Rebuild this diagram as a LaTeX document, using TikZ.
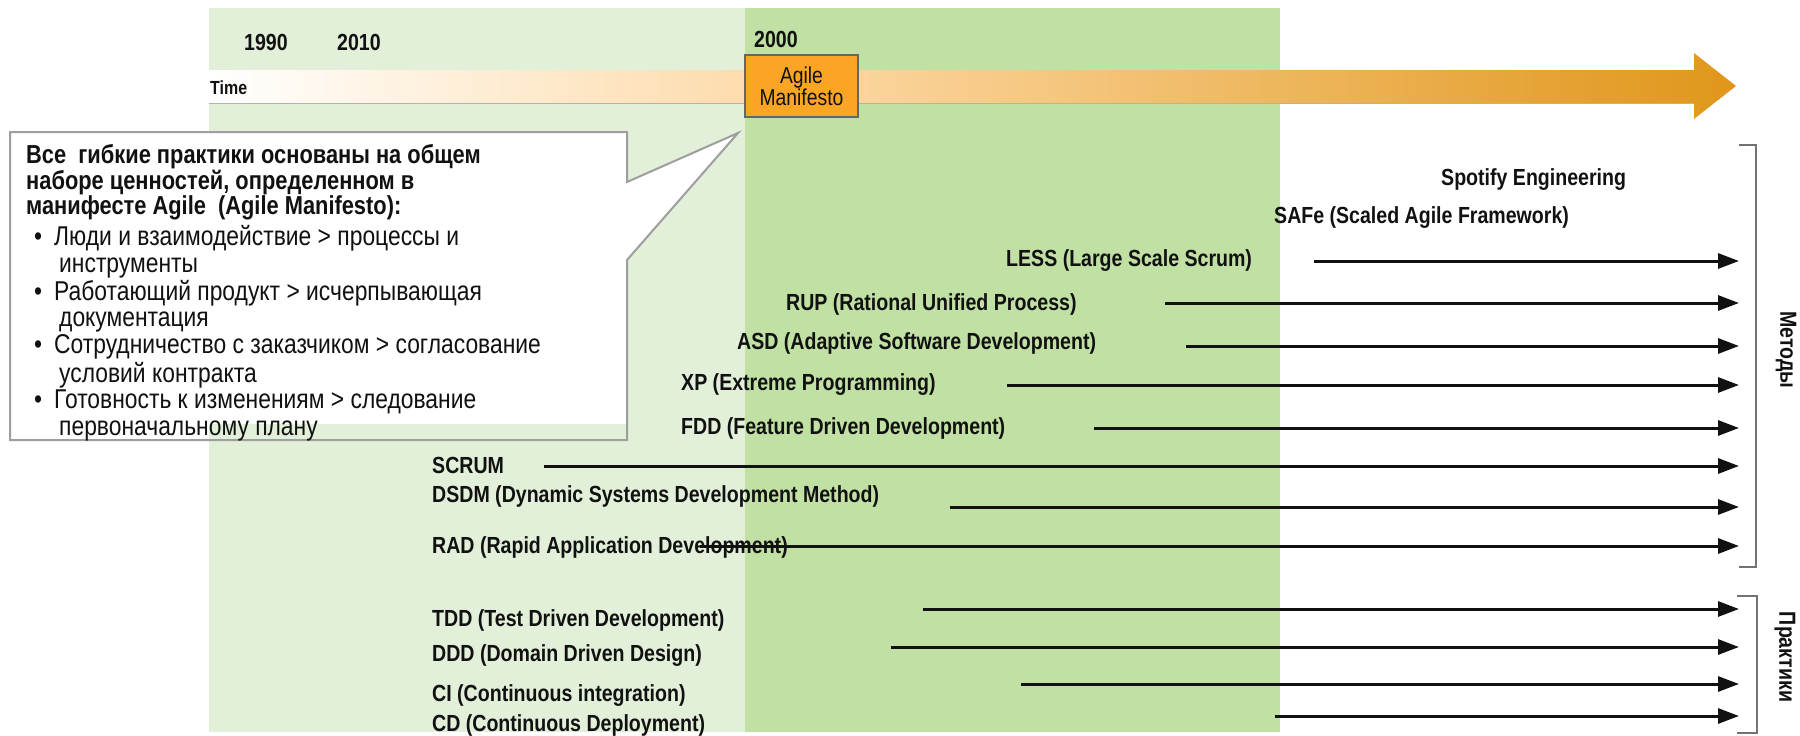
\documentclass[tikz,border=0pt]{standalone}
\usepackage{fontspec}
\setmainfont{Liberation Sans}[FakeStretch=0.84]
\usetikzlibrary{arrows.meta}
\definecolor{lightgr}{HTML}{E2EFD9}
\definecolor{darkgr}{HTML}{C0E0A4}
\definecolor{manifor}{HTML}{FBA524}
\definecolor{tlpeach}{HTML}{FDD9A6}
\definecolor{tlorange}{HTML}{E0961A}
\definecolor{ink}{HTML}{111111}
\pgfdeclarehorizontalshading{timeshade}{100bp}{color(0bp)=(white); color(25bp)=(white); color(44bp)=(tlpeach); color(75bp)=(tlorange); color(100bp)=(tlorange)}

\begin{document}
\begin{tikzpicture}[x=1pt,y=-1pt,
  lbl/.style={anchor=base west,inner sep=0pt,text=ink,font=\fontsize{23.3}{27}\selectfont\bfseries},
  arr/.style={draw=ink,line width=3pt,-{Triangle[length=21pt,width=15pt]}},
  brk/.style={draw=black!55,line width=1.5pt},
  side/.style={rotate=-90,inner sep=0pt,text=ink,font=\fontsize{23.3}{27}\selectfont\bfseries}]
  \useasboundingbox (0,0) rectangle (1800,736);
  \fill[lightgr] (209,8) rectangle (745,732);
  \fill[darkgr] (745,8) rectangle (1280,732);

  \shade[shading=timeshade] (209,70) -- (1694,70) -- (1694,53) -- (1736,86) -- (1694,119) -- (1694,103) -- (209,103) -- cycle;
  \draw[black!30,line width=1pt] (209,103) -- (1694,103);
  \node[lbl,font=\fontsize{19}{21}\selectfont\bfseries] (time) at (210,94) {Time};
  \node[lbl] (y1990) at (244,50) {1990};
  \node[lbl] (y2010) at (337,50) {2010};
  \node[lbl] (y2000) at (754,47) {2000};
  \node[draw=black!60,line width=2pt,fill=manifor,minimum width=113pt,minimum height=62pt,inner sep=0pt,
    align=center,text=ink,font=\fontsize{23}{22}\selectfont] (manif) at (801.5,86) {Agile\\Manifesto};

  \fill[white] (10,132) -- (627,132) -- (627,182) -- (738,133) -- (627,260) -- (627,424) -- (10,424) -- cycle;
  \draw[draw=black!38,line width=2pt] (10,132) -- (627,132) -- (627,182) -- (738,133) -- (627,260) -- (627,440) -- (10,440) -- cycle;
  \node[anchor=north west,inner sep=0pt,align=left,text=ink,font=\fontsize{26}{23.5}\selectfont\bfseries] (values) at (26,144)
    {Все \ гибкие практики основаны на общем\\наборе ценностей, определенном в\\манифесте Agile \ (Agile Manifesto):};
  \node[anchor=north west,inner sep=0pt,text=ink,font=\fontsize{27.2}{26.7}\selectfont] (points) at (34,225) {%
    \begin{tabular}{@{}l@{\hspace{12pt}}l@{}}
      \textbullet & Люди и взаимодействие > процессы и\\
      & \hspace{5pt}инструменты\\
      \textbullet & Работающий продукт > исчерпывающая\\
      & \hspace{5pt}документация\\
      \textbullet & Сотрудничество с заказчиком > согласование\\
      & \hspace{5pt}условий контракта\\
      \textbullet & Готовность к изменениям > следование\\
      & \hspace{5pt}первоначальному плану
    \end{tabular}};

  \node[lbl] (spotify) at (1441,185) {Spotify Engineering};
  \node[lbl] (safe) at (1274,223) {SAFe (Scaled Agile Framework)};
  \foreach \nm/\lx/\ly/\ax/\ay/\txt in {less/1006/258/1314/261/LESS (Large Scale Scrum),
      rup/786/302/1165/303/RUP (Rational Unified Process),
      asd/737/341/1186/346/ASD (Adaptive Software Development),
      xp/681/382/1007/385/XP (Extreme Programming),
      fdd/681/426/1094/428/FDD (Feature Driven Development),
      scrum/432/465/544/466/SCRUM,
      dsdm/432/494/950/507/DSDM (Dynamic Systems Development Method),
      rad/432/545/700/546/RAD (Rapid Application Development),
      tdd/432/618/923/609/TDD (Test Driven Development),
      ddd/432/653/891/647/DDD (Domain Driven Design),
      ci/432/693/1021/684/CI (Continuous integration),
      cd/432/723/1275/716/CD (Continuous Deployment)} {
    \node[lbl] (\nm) at (\lx,\ly+8) {\txt};
    \coordinate (\nm-s) at (\ax,\ay);
    \coordinate (\nm-e) at (1739,\ay);
    \draw[arr] (\nm-s) -- (\nm-e);
  }

  \draw[brk] (1739,145) -- (1756,145) -- (1756,567) -- (1739,567);
  \draw[brk] (1737,596) -- (1757,596) -- (1757,733) -- (1737,733);
  \node[side] (methods) at (1786,350) {Методы};
  \node[side] (practices) at (1785,657) {Практики};
\end{tikzpicture}
\end{document}
